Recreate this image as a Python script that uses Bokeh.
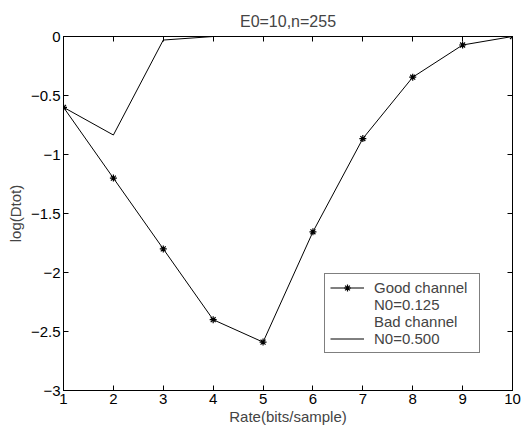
from bokeh.plotting import figure
from bokeh.models import Range1d, LinearAxis, FixedTicker, Legend, LegendItem
from bokeh.embed import file_html
from bokeh.resources import INLINE

# Data
rate = [1, 2, 3, 4, 5, 6, 7, 8, 9, 10]
good_channel = [-0.6, -1.2, -1.8, -2.4, -2.59, -1.655, -0.865, -0.345, -0.072, 0.0]
bad_channel = [-0.6, -0.835, -0.03, 0.0, 0.0, 0.0, 0.0, 0.0, 0.0, 0.0]
xticks = [1, 2, 3, 4, 5, 6, 7, 8, 9, 10]
yticks = [-3.0, -2.5, -2.0, -1.5, -1.0, -0.5, 0.0]
ylabels = ["\u22123", "\u22122.5", "\u22122", "\u22121.5", "\u22121", "\u22120.5", "0"]
legend_labels = ["Good channel", "N0=0.125", "Bad channel", "N0=0.500"]

FONT = "Liberation Sans"

p = figure(frame_width=449, frame_height=354, output_backend="svg", toolbar_location=None,
           x_range=Range1d(1, 10), y_range=Range1d(-3, 0),
           title="E0=10,n=255", x_axis_type=None, y_axis_type=None,
           min_border_left=63, min_border_right=9, min_border_top=36, min_border_bottom=34)
p.title.align = "center"
p.title.text_font = FONT
p.title.text_font_size = "16px"
p.title.text_font_style = "normal"
p.title.standoff = 14
p.xgrid.visible = False
p.ygrid.visible = False
p.outline_line_color = "black"
p.outline_line_width = 1
p.background_fill_color = "white"
p.border_fill_color = "white"

def style_axis(ax, show_labels):
    ax.axis_line_color = "black"
    ax.axis_line_width = 1
    ax.major_tick_in = 5
    ax.major_tick_out = 0
    ax.minor_tick_line_color = None
    ax.major_tick_line_color = "black"
    ax.major_label_text_font = FONT
    ax.axis_label_text_font = FONT
    ax.axis_label_text_font_style = "normal"
    ax.axis_label_text_font_size = "15px"
    if show_labels:
        ax.major_label_text_color = "black"
        ax.major_label_text_font_size = "15px"
        ax.major_label_standoff = 3
    else:
        ax.major_label_text_color = None
        ax.major_label_text_font_size = "1px"
        ax.major_label_standoff = 0

xb = LinearAxis(ticker=FixedTicker(ticks=xticks), axis_label="Rate(bits/sample)")
style_axis(xb, True)
xb.axis_label_standoff = 1
yl = LinearAxis(ticker=FixedTicker(ticks=yticks), axis_label="log(Dtot)",
                major_label_overrides=dict(zip(yticks, ylabels)))
style_axis(yl, True)
yl.axis_label_standoff = 4
xt = LinearAxis(ticker=FixedTicker(ticks=xticks))
style_axis(xt, False)
yr = LinearAxis(ticker=FixedTicker(ticks=yticks))
style_axis(yr, False)
p.add_layout(xb, "below")
p.add_layout(yl, "left")
p.add_layout(xt, "above")
p.add_layout(yr, "right")

g_line = p.line(rate, good_channel, line_color="black", line_width=1)
g_mark = p.scatter(rate, good_channel, marker="asterisk", size=7, line_color="black", line_width=1.2)
b_line = p.line(rate, bad_channel, line_color="black", line_width=1)

legend = Legend(items=[
    LegendItem(label=legend_labels[0], renderers=[g_line, g_mark]),
    LegendItem(label=legend_labels[1], renderers=[]),
    LegendItem(label=legend_labels[2], renderers=[]),
    LegendItem(label=legend_labels[3], renderers=[b_line]),
], location=(261, 37))
legend.border_line_color = "black"
legend.border_line_width = 1
legend.background_fill_color = "white"
legend.background_fill_alpha = 1
legend.label_text_font = FONT
legend.label_text_font_size = "15px"
legend.label_height = 17
legend.label_width = 100
legend.glyph_height = 17
legend.glyph_width = 34
legend.label_standoff = 10
legend.spacing = 0
legend.padding = 5
legend.margin = 0
p.add_layout(legend, "center")

open("out.html", "w").write(file_html(p, INLINE))
